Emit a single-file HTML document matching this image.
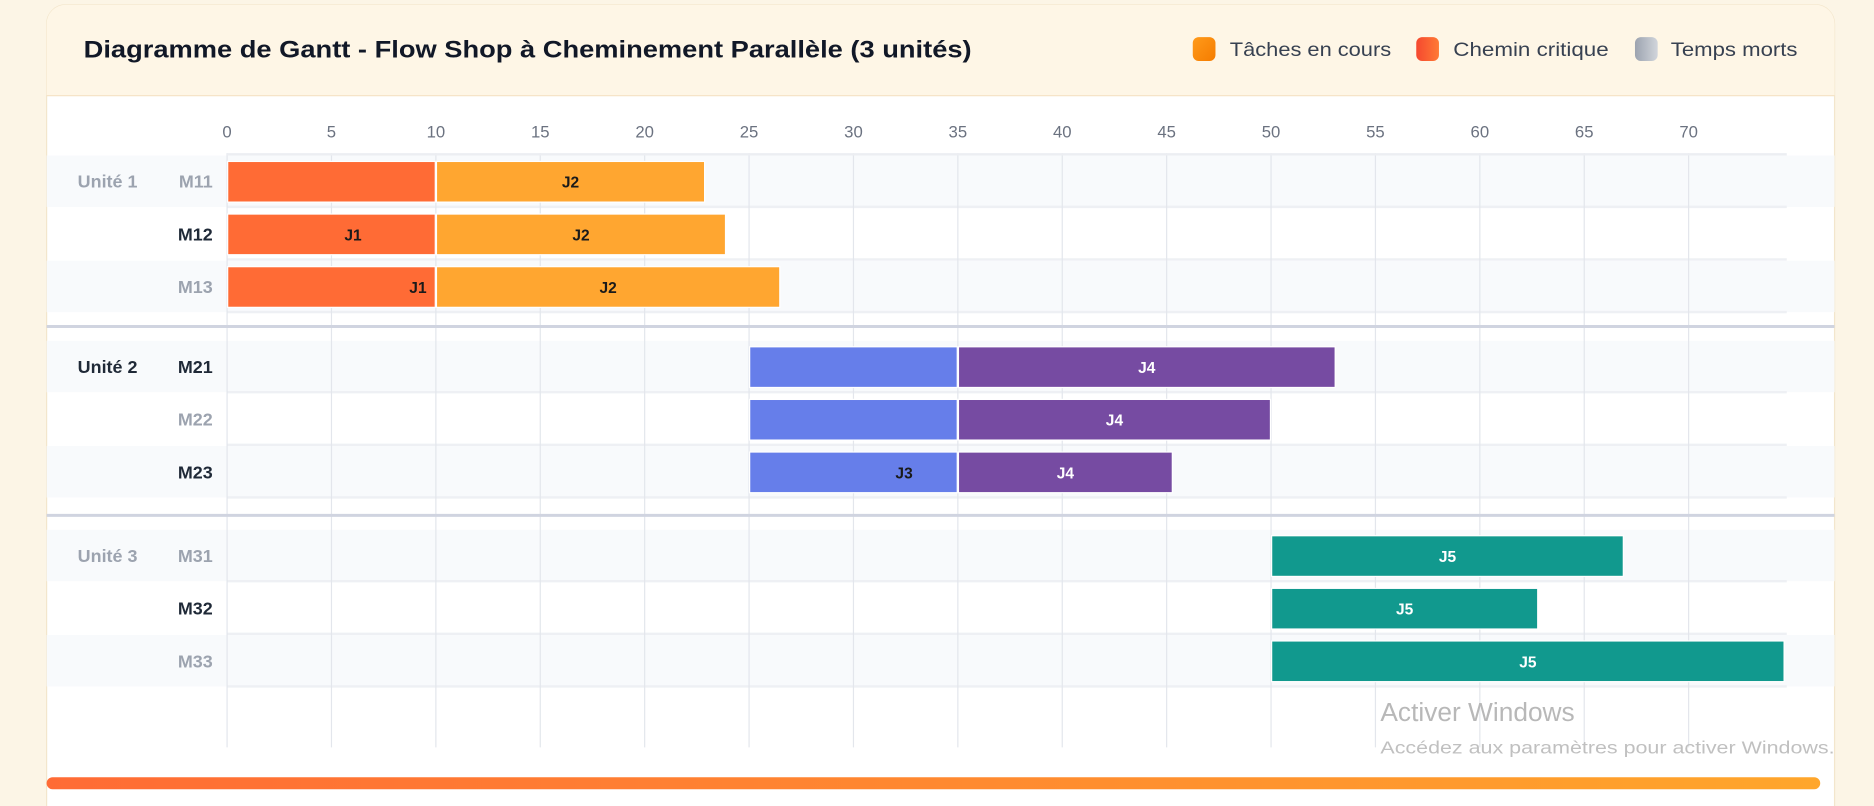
<!DOCTYPE html>
<html><head><meta charset="utf-8"><style>
html,body{margin:0;padding:0;width:1874px;height:806px;overflow:hidden;background:#fcf5e6;}
svg{display:block;font-family:"Liberation Sans",sans-serif;}
</style></head><body>
<svg id="chart" width="1874" height="806" viewBox="0 0 1568 674" preserveAspectRatio="none" xmlns="http://www.w3.org/2000/svg">
<defs>
<linearGradient id="gOr" x1="0" y1="0" x2="1" y2="1"><stop offset="0" stop-color="#ff9a1a"/><stop offset="1" stop-color="#f57c00"/></linearGradient>
<linearGradient id="gRd" x1="0" y1="0" x2="1" y2="0"><stop offset="0" stop-color="#f5482f"/><stop offset="1" stop-color="#ff7a35"/></linearGradient>
<linearGradient id="gGy" x1="0" y1="0" x2="1" y2="0"><stop offset="0" stop-color="#9ca3af"/><stop offset="1" stop-color="#d1d5db"/></linearGradient>
<linearGradient id="gBar" x1="0" y1="0" x2="1" y2="0"><stop offset="0" stop-color="#ff6b35"/><stop offset="1" stop-color="#ffa62b"/></linearGradient>
</defs>
<rect x="39" y="4" width="1496" height="700" rx="16" fill="#ffffff" stroke="#f3e6cc"/>
<path d="M39 80 V20 a16 16 0 0 1 16 -16 H1519 a16 16 0 0 1 16 16 V80 Z" fill="#fef6e6"/>
<line x1="39" y1="80" x2="1535" y2="80" stroke="#f4e2c4"/>
<text x="70" y="48" font-size="20" font-weight="700" fill="#111827" textLength="743" lengthAdjust="spacingAndGlyphs">Diagramme de Gantt - Flow Shop à Cheminement Parallèle (3 unités)</text>
<g>
<rect x="998" y="31" width="19" height="20" rx="5" fill="url(#gOr)"/>
<text x="1029" y="47" font-size="16" fill="#374151" textLength="135" lengthAdjust="spacingAndGlyphs">Tâches en cours</text>
<rect x="1185" y="31" width="19" height="20" rx="5" fill="url(#gRd)"/>
<text x="1216" y="47" font-size="16" fill="#374151" textLength="130" lengthAdjust="spacingAndGlyphs">Chemin critique</text>
<rect x="1368" y="31" width="19" height="20" rx="5" fill="url(#gGy)"/>
<text x="1398" y="47" font-size="16" fill="#374151" textLength="106" lengthAdjust="spacingAndGlyphs">Temps morts</text>
</g>
<g id="plot"></g>
<text x="1155" y="603" font-size="22" fill="#b8b8b8">Activer Windows</text>
<text x="1155" y="630" font-size="15" fill="#c0c0c0" textLength="380" lengthAdjust="spacingAndGlyphs">Accédez aux paramètres pour activer Windows.</text>
<rect x="39" y="650" width="1484" height="10" rx="5" fill="url(#gBar)"/>
</svg>
<script>
const machines = ["M11","M12","M13","M21","M22","M23","M31","M32","M33"];
const units = ["Unité 1","Unité 2","Unité 3"];
const ticks = [0,5,10,15,20,25,30,35,40,45,50,55,60,65,70];
const taskMachine = [0,0,1,1,2,2,3,3,4,4,5,5,6,7,8];
const taskJob = ["J1","J2","J1","J2","J1","J2","J3","J4","J3","J4","J3","J4","J5","J5","J5"];
const taskStart = [0,10,0,10,0,10,25,35,25,35,25,35,50,50,50];
const taskEnd = [10,22.9,10,23.9,10,26.5,35,53.1,35,50,35,45.3,66.9,62.8,74.6];
const taskLabel = [false,true,true,true,true,true,false,true,false,true,true,true,true,true,true];
const boldRows = [false,true,false,true,false,true,false,true,false];
const jobColor = {J1:"#ff6b35",J2:"#ffa630",J3:"#667eea",J4:"#764ba2",J5:"#11998e"};
const jobText = {J1:"#1a1a1a",J2:"#1a1a1a",J3:"#1a1a1a",J4:"#ffffff",J5:"#ffffff"};

const NS="http://www.w3.org/2000/svg";
const g=document.getElementById('plot');
const x0=190, pxU=17.47, plotR=1495;
const xs=v=>x0+v*pxU;
const rowY=i=>130+Math.floor(i/3)*157+(i%3)*44 - (Math.floor(i/3)===2?1:0) - (Math.floor(i/3)===1?2:0);
function mk(t,a,p){const e=document.createElementNS(NS,t);for(const k in a)e.setAttribute(k,a[k]);(p||g).appendChild(e);return e;}
machines.forEach((m,i)=>{
  if(i%3!==1){const r=mk('rect',{x:39,y:rowY(i),width:1496,height:43,fill:'#f8fafc'});
  
  }
  mk('line',{x1:x0,x2:plotR,y1:rowY(i)+43,y2:rowY(i)+43,stroke:'#eef0f4','stroke-width':2});
});
ticks.forEach(t=>{
  const l=mk('line',{x1:xs(t),x2:xs(t),y1:128,y2:625,stroke:'#e3e6ec','stroke-width':1});
  
  
  const tx=mk('text',{x:xs(t),y:115,'text-anchor':'middle','font-size':14,fill:'#6b7280'});
  tx.textContent=t;
  
  
});
mk('line',{x1:x0,x2:plotR,y1:129,y2:129,stroke:'#eceef2','stroke-width':2});
[273,431].forEach((y,k)=>{const l=mk('line',{x1:39,x2:1535,y1:y,y2:y,stroke:'#d0d4e0','stroke-width':2.5});
  
  });
machines.forEach((m,i)=>{
  const cy=rowY(i)+21;
  const t=mk('text',{x:178,y:cy+6,'text-anchor':'end','font-size':15,'font-weight':700,fill:boldRows[i]?'#1f2937':'#9ca3af'});
  t.textContent=m;
  
  
  if(i%3===0){const u=mk('text',{x:65,y:cy+6,'font-size':15,'font-weight':700,fill:i===3?'#1f2937':'#9ca3af'});
    u.textContent=units[i/3];
    
    }
});
taskJob.forEach((j,k)=>{
  const i=taskMachine[k], y=rowY(i)+5, x=xs(taskStart[k]), w=xs(taskEnd[k])-x;
  const r=mk('rect',{x:x+0.5,y:y,width:w-1,height:34,fill:jobColor[j],stroke:'#ffffff','stroke-width':1});
  
  
  if(taskLabel[k]){
    let lx=x+w/2;
    if(j==='J1'&&i===2) lx=x+w-15; else if(j==='J3') lx=x+w-45; else if(j==='J1') lx=x+w/2+18;
    const t=mk('text',{x:lx,y:y+22,'text-anchor':'middle','font-size':13,'font-weight':700,fill:jobText[j]});
    t.textContent=j;
    
    
  }
});
</script>
</body></html>
